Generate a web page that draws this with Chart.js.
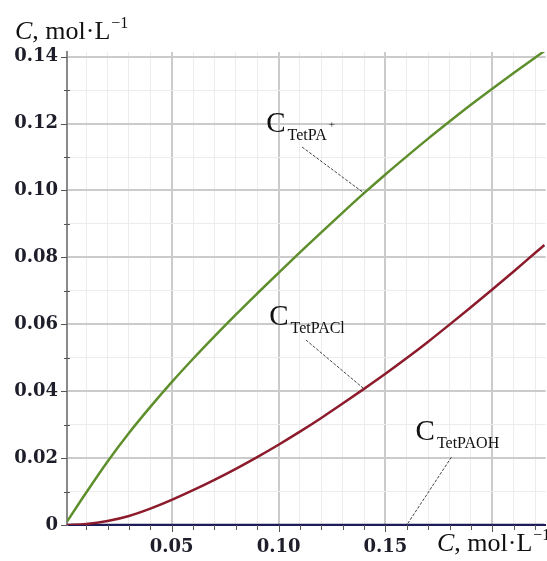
<!DOCTYPE html>
<html><head><meta charset="utf-8">
<script src="https://cdn.jsdelivr.net/npm/chart.js@4.4.0/dist/chart.umd.min.js"></script>
<style>html,body{margin:0;padding:0;background:#fff;overflow:hidden}</style>
</head><body>
<canvas id="c" width="547" height="561" style="width:547px;height:561px;display:block"></canvas>
<script>
// ---- data ----
const concentration = [0.001,0.01,0.02,0.03,0.04,0.05,0.06,0.07,0.08,0.09,0.10,0.11,0.12,0.13,0.14,0.15,0.16,0.17,0.18,0.19,0.20,0.21,0.22,0.2244];
const cTetPA   = [0.0010,0.0097,0.0190,0.0275,0.0353,0.0427,0.0497,0.0564,0.0629,0.0692,0.0754,0.0815,0.0875,0.0934,0.0992,0.1048,0.1102,0.1155,0.1206,0.1256,0.1304,0.1351,0.1397,0.1417];
const cTetPACl = [0.0000,0.0003,0.0012,0.0027,0.0049,0.0075,0.0104,0.0135,0.0168,0.0203,0.0240,0.0279,0.0320,0.0363,0.0407,0.0452,0.0499,0.0548,0.0599,0.0651,0.0704,0.0758,0.0813,0.0837];
const cTetPAOH = [0,0,0,0,0,0,0,0,0,0,0,0,0,0,0,0,0,0,0,0,0,0,0,0];
const xTickValues = [0.01,0.02,0.03,0.04,0.05,0.06,0.07,0.08,0.09,0.10,0.11,0.12,0.13,0.14,0.15,0.16,0.17,0.18,0.19,0.20,0.21,0.22];
const yTickValues = [0,0.01,0.02,0.03,0.04,0.05,0.06,0.07,0.08,0.09,0.10,0.11,0.12,0.13,0.14];
const xLabelValues = [0.05,0.10,0.15];
const yLabelValues = [0,0.02,0.04,0.06,0.08,0.10,0.12,0.14];
const seriesNames = ['TetPA','TetPACl','TetPAOH'];

const near = (a,b)=>Math.abs(a-b)<1e-6;
const isXMajor = v => Math.abs(Math.round(v/0.05)*0.05 - v) < 1e-6;
const isYMajor = v => Math.abs(Math.round(v/0.02)*0.02 - v) < 1e-6;

const pts = arr => concentration.map((x,i)=>({x:x,y:arr[i]}));

const SERIF = '"Liberation Serif", "Times New Roman", serif';

function drawCLabel(ctx, left, base, sub, sup){
  ctx.save();
  ctx.fillStyle = '#111';
  ctx.textBaseline = 'alphabetic';
  ctx.textAlign = 'left';
  ctx.font = '29px ' + SERIF;
  ctx.fillText('C', left, base);
  const w = ctx.measureText('C').width;
  ctx.font = '16px ' + SERIF;
  ctx.fillText(sub, left + w + 2, base + 8);
  const ws = ctx.measureText(sub).width;
  if (sup){
    ctx.font = '11px ' + SERIF;
    ctx.fillText(sup, left + w + 4 + ws, base - 4);
  }
  ctx.restore();
}

function drawAxisTitle(ctx, left, base){
  ctx.save();
  ctx.fillStyle = '#111';
  ctx.textBaseline = 'alphabetic';
  ctx.textAlign = 'left';
  ctx.font = 'italic 26px ' + SERIF;
  ctx.fillText('C', left, base);
  let x = left + ctx.measureText('C').width;
  ctx.font = '26px ' + SERIF;
  ctx.fillText(', mol·L', x, base);
  x += ctx.measureText(', mol·L').width;
  ctx.font = '16px ' + SERIF;
  ctx.fillText('\u22121', x + 1, base - 11);
  ctx.restore();
}

const decor = {
  id: 'decor',
  afterDraw(chart){
    const ctx = chart.ctx;
    const xs = chart.scales.x, ys = chart.scales.y;
    const a = chart.chartArea;
    // tick marks
    ctx.save();
    ctx.strokeStyle = '#555';
    ctx.lineWidth = 1;
    xTickValues.forEach(v=>{
      const px = Math.round(xs.getPixelForValue(v)) + 0.5;
      const len = isXMajor(v) ? 7 : 5;
      ctx.beginPath(); ctx.moveTo(px, a.bottom); ctx.lineTo(px, a.bottom + len); ctx.stroke();
    });
    yTickValues.forEach(v=>{
      const py = Math.round(ys.getPixelForValue(v)) + 0.5;
      const len = isYMajor(v) ? 6 : 3;
      ctx.beginPath(); ctx.moveTo(a.left - len, py); ctx.lineTo(a.left + (isYMajor(v)?0:3), py); ctx.stroke();
    });
    ctx.restore();

    // pointer lines (from label to curve, in data units)
    const pointers = [
      {from:[0.111,0.113],  x:0.14, series:cTetPA},
      {from:[0.1128,0.0553],x:0.14, series:cTetPACl},
      {from:[0.1809,0.0203],x:0.16, series:cTetPAOH}
    ];
    ctx.save();
    ctx.strokeStyle = '#444';
    ctx.lineWidth = 1;
    ctx.setLineDash([3,1.5]);
    pointers.forEach(p=>{
      const i = concentration.findIndex(c=>near(c,p.x));
      ctx.beginPath();
      ctx.moveTo(xs.getPixelForValue(p.from[0]), ys.getPixelForValue(p.from[1]));
      ctx.lineTo(xs.getPixelForValue(p.x), ys.getPixelForValue(p.series[i]));
      ctx.stroke();
    });
    ctx.restore();

    // curve labels
    const labels = [
      {x:0.0942, y:0.1176, sub:seriesNames[0], sup:'+'},
      {x:0.0956, y:0.0598, sub:seriesNames[1], sup:''},
      {x:0.1641, y:0.0254, sub:seriesNames[2], sup:''}
    ];
    labels.forEach(l=>drawCLabel(ctx, xs.getPixelForValue(l.x), ys.getPixelForValue(l.y), l.sub, l.sup));

    // axis titles
    drawAxisTitle(ctx, 15, 39);
    drawAxisTitle(ctx, 437, 551);
  }
};

new Chart(document.getElementById('c'), {
  type: 'line',
  data: {
    datasets: [
      {label:'C TetPA+',  data: pts(cTetPA),   borderColor:'#5e8f2c', borderWidth:2.5, pointRadius:0, cubicInterpolationMode:'monotone'},
      {label:'C TetPACl', data: pts(cTetPACl), borderColor:'#8c1b2b', borderWidth:2.5, pointRadius:0, cubicInterpolationMode:'monotone'},
      {label:'C TetPAOH', data: pts(cTetPAOH), borderColor:'#1c1c5a', borderWidth:2.5, pointRadius:0}
    ]
  },
  options: {
    responsive: false,
    animation: false,
    devicePixelRatio: 1,
    layout: { padding: { top: 52, left: 0, right: 0, bottom: 0 } },
    plugins: { legend: {display:false}, tooltip: {enabled:false} },
    scales: {
      x: {
        type: 'linear', min: 0.001, max: 0.225,
        afterBuildTicks: s => { s.ticks = xTickValues.map(v=>({value:v})); },
        afterFit: s => { s.height = 36; },
        border: { color: '#1c1c5a', width: 2 },
        grid: {
          drawTicks: false,
          color: c => isXMajor(c.tick.value) ? '#cbcbcb' : '#ececec',
          lineWidth: c => isXMajor(c.tick.value) ? 2 : 1
        },
        ticks: {
          padding: 12, maxRotation: 0, autoSkip: false,
          color: '#1e1e2a',
          font: { family: '"DejaVu Serif", serif', size: 18, weight: 'bold' },
          callback: v => xLabelValues.some(l=>near(l,v)) ? v.toFixed(2) : ''
        }
      },
      y: {
        type: 'linear', min: 0, max: 0.1414,
        afterBuildTicks: s => { s.ticks = yTickValues.map(v=>({value:v})); },
        afterFit: s => { s.width = 67; },
        border: { color: '#8a8a8a', width: 2 },
        grid: {
          drawTicks: false,
          color: c => isYMajor(c.tick.value) ? '#cbcbcb' : '#ececec',
          lineWidth: c => isYMajor(c.tick.value) ? 2 : 1
        },
        ticks: {
          padding: 9, autoSkip: false,
          color: '#1e1e2a',
          font: { family: '"DejaVu Serif", serif', size: 18, weight: 'bold' },
          callback: v => yLabelValues.some(l=>near(l,v)) ? (near(v,0) ? '0' : v.toFixed(2)) : ''
        }
      }
    }
  },
  plugins: [decor]
});
</script>
</body></html>
